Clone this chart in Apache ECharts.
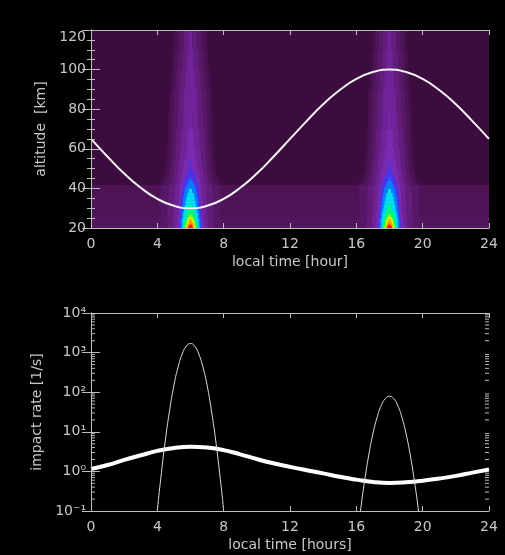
<!DOCTYPE html>
<html lang="en">
<head>
    <meta charset="UTF-8">
    <title>impact rate</title>
    <script src="https://cdn.jsdelivr.net/npm/echarts@6/dist/echarts.min.js"></script>
    <style>
        html, body { margin: 0; padding: 0; background: #000; }
    </style>
</head>
<body>
<div id="myChart" style="width: 505px;height: 555px"></div>
</body>
<script>
    // altitude curve (top panel), one point per hour
    var hours = [0,1,2,3,4,5,6,7,8,9,10,11,12,13,14,15,16,17,18,19,20,21,22,23,24];
    var altLine = [65,56,47.5,40.3,34.7,31.2,30,31.2,34.7,40.3,47.5,56,65,74,82.5,89.7,95.3,98.8,100,98.8,95.3,89.7,82.5,74,65];

    // thick impact rate curve (bottom panel)
    var rateLine = [1.15,1.45,1.95,2.55,3.3,3.9,4.2,4.0,3.45,2.7,2.05,1.6,1.3,1.07,0.89,0.73,0.62,0.54,0.51,0.53,0.58,0.66,0.77,0.93,1.12];

    // thin peaks around 6h and 18h
    var peakATime = [3.75,4,4.25,4.5,4.75,5,5.25,5.5,5.75,6,6.25,6.5,6.75,7,7.25,7.5,7.75,8,8.25];
    var peakARate = [0.006,0.1,0.95,7,37,150,430,920,1450,1700,1450,920,430,150,37,7,0.95,0.1,0.006];
    var peakBTime = [15.75,16,16.25,16.5,16.75,17,17.25,17.5,17.75,18,18.25,18.5,18.75,19,19.25,19.5,19.75,20,20.25];
    var peakBRate = [0.001,0.013,0.1,0.58,2.6,8.9,23,46,69,79,69,46,23,8.9,2.6,0.58,0.1,0.013,0.001];

    // log axis labels and minor ticks
    var logLabels = ['10⁻¹','10⁰','10¹','10²','10³','10⁴'];
    var logMinor = [0.2,0.3,0.4,0.5,0.6,0.7,0.8,0.9, 2,3,4,5,6,7,8,9, 20,30,40,50,60,70,80,90,
        200,300,400,500,600,700,800,900, 2000,3000,4000,5000,6000,7000,8000,9000];

    // background map: altitude rows, background level, plume half widths (hours) for levels 1..13
    var plumeCenters = [6, 18];
    var altEdges = [20,21,22,23,24,25,26,27,28,29,30,32,34,36,38,40,41,42,43,44,46,48,50,55,60,70,80,90,100,110,120];
    var bgLevel = [2.4,2.4,2.4,2.4,2.4,2.4, 2.1,2.1,2.1,2.1,2.1,2.1, 1.8,1.8,1.8,1.8,1.8, 0,0,0,0,0,0,0,0,0,0,0,0,0];
    var plumeWidth = [
        [2,2,1.8,1.4,1.05,0.85,0.72,0.62,0.52,0.42,0.31,0.22,0.13],
        [2,2,1.8,1.4,1.05,0.84,0.71,0.61,0.51,0.4,0.29,0.19,0.08],
        [2,2,1.8,1.4,1.05,0.83,0.7,0.6,0.5,0.38,0.26,0.15,0.02],
        [2,2,1.8,1.4,1.04,0.82,0.69,0.59,0.49,0.36,0.23,0.1],
        [2,2,1.8,1.4,1.04,0.81,0.68,0.58,0.48,0.34,0.19,0.04],
        [2,2,1.8,1.39,1.03,0.8,0.67,0.57,0.46,0.31,0.14],
        [2,2,1.8,1.39,1.03,0.79,0.66,0.56,0.45,0.28,0.07],
        [2,2,1.8,1.38,1.02,0.78,0.65,0.55,0.43,0.24],
        [2,2,1.8,1.38,1.02,0.77,0.64,0.54,0.41,0.2],
        [2,2,1.8,1.37,1.01,0.76,0.63,0.52,0.39,0.15],
        [2,2,1.8,1.36,1.0,0.75,0.62,0.5,0.36,0.08],
        [2,2,1.8,1.35,0.99,0.73,0.6,0.47,0.32],
        [2,2,1.8,1.34,0.98,0.71,0.58,0.44,0.27],
        [2,2,1.8,1.33,0.97,0.69,0.56,0.4,0.2],
        [2,2,1.8,1.32,0.96,0.67,0.53,0.35,0.1],
        [2,2,1.8,1.31,0.95,0.65,0.5,0.3],
        [2,2,1.8,1.3,0.94,0.63,0.47,0.25],
        [2.0,1.7,1.4,1.1,0.85,0.62,0.45,0.2],
        [1.85,1.6,1.35,1.08,0.83,0.6,0.4,0.13],
        [1.7,1.5,1.3,1.05,0.8,0.57,0.33,0.05],
        [1.6,1.45,1.25,1.02,0.78,0.54,0.25],
        [1.55,1.4,1.2,1.0,0.75,0.5,0.15],
        [1.5,1.35,1.15,0.95,0.7,0.42,0.05],
        [1.45,1.3,1.1,0.9,0.63,0.32],
        [1.4,1.25,1.05,0.83,0.55,0.2],
        [1.35,1.2,1.0,0.76,0.46,0.06],
        [1.3,1.15,0.95,0.7,0.38],
        [1.2,1.05,0.85,0.6,0.28],
        [1.1,0.95,0.75,0.5,0.18],
        [1.0,0.85,0.65,0.42,0.08]
    ];
    var mapColors = ['#3d0c3f','#45104b','#4e1458','#581868','#631d7c','#6f2396','#7a2ab0',
        '#4a34e8','#0a7cff','#00dcf0','#00ff78','#d0ff00','#ff9800','#ff1800'];

    // build rectangles [t0, t1, alt0, alt1, level]
    var cells = [];
    var step = 0.05;
    for (var r = 0; r < altEdges.length - 1; r++) {
        var hw = plumeWidth[r];
        var levelAt = function (t) {
            var d = 99;
            plumeCenters.forEach(function (c) { d = Math.min(d, Math.abs(t - c)); });
            var lv = bgLevel[r];
            for (var k = 0; k < hw.length; k++) {
                if (d < hw[k]) lv = Math.max(lv, k + 1);
            }
            return lv;
        };
        var startI = 0;
        var cur = levelAt(0.5 * step);
        for (var i = 1; i <= 480; i++) {
            var lv = i < 480 ? levelAt((i + 0.5) * step) : -1;
            if (lv !== cur) {
                cells.push([startI * step, i * step, altEdges[r], altEdges[r + 1], cur]);
                startI = i;
                cur = lv;
            }
        }
    }

    var txt = '#c8c8c8';
    var frame = {lineStyle: {color: '#bdbdbd', width: 1}};
    var font = 'DejaVu Sans';

    function xAx(grid, pos, name) {
        return {
            gridIndex: grid, type: 'value', position: pos, min: 0, max: 24, interval: 4, z: 5,
            axisLine: frame,
            axisTick: {inside: true, length: 5, lineStyle: {color: '#bdbdbd'}},
            axisLabel: {show: !!name, color: txt, fontSize: 14, fontFamily: font, margin: 9},
            splitLine: {show: false},
            name: name || '', nameLocation: 'middle', nameGap: 27,
            nameTextStyle: {color: txt, fontSize: 14, fontFamily: font}
        };
    }

    var myChart = echarts.init(document.getElementById('myChart'));
    myChart.setOption({
        backgroundColor: '#000',
        animation: false,
        grid: [
            {left: 91, right: 16, top: 30, height: 198},
            {left: 91, right: 16, top: 313, height: 198}
        ],
        visualMap: {
            show: false, type: 'continuous', seriesIndex: 0, dimension: 4,
            min: 0, max: 13, inRange: {color: mapColors}
        },
        xAxis: [
            xAx(0, 'bottom', 'local time [hour]'),
            xAx(0, 'top'),
            xAx(1, 'bottom', 'local time [hours]'),
            xAx(1, 'top')
        ],
        yAxis: [
            {
                gridIndex: 0, type: 'value', position: 'left', min: 20, max: 120, interval: 20, z: 5,
                axisLine: frame,
                axisTick: {inside: true, length: 9, lineStyle: {color: '#bdbdbd'}},
                minorTick: {show: true, splitNumber: 4, length: 4, lineStyle: {color: '#bdbdbd'}},
                axisLabel: {color: txt, fontSize: 14, fontFamily: font, margin: 5,
                    verticalAlignMaxLabel: 'top'},
                splitLine: {show: false},
                name: 'altitude  [km]', nameLocation: 'middle', nameGap: 35,
                nameTextStyle: {color: txt, fontSize: 14, fontFamily: font}
            },
            {
                gridIndex: 0, type: 'value', position: 'right', min: 20, max: 120, interval: 20, z: 5,
                axisLine: frame,
                axisTick: {inside: true, length: 9, lineStyle: {color: '#bdbdbd'}},
                minorTick: {show: true, splitNumber: 4, length: 4, lineStyle: {color: '#bdbdbd'}},
                axisLabel: {show: false},
                splitLine: {show: false}
            },
            {
                gridIndex: 1, type: 'log', logBase: 10, position: 'left', min: 0.1, max: 10000, z: 5,
                axisLine: frame,
                axisTick: {inside: true, length: 9, lineStyle: {color: '#bdbdbd'}},
                axisLabel: {color: txt, fontSize: 14, fontFamily: font, margin: 5,
                    formatter: function (v) { return logLabels[Math.round(Math.log10(v)) + 1]; }},
                splitLine: {show: false},
                name: 'impact rate [1/s]', nameLocation: 'middle', nameGap: 35,
                nameTextStyle: {color: txt, fontSize: 14, fontFamily: font}
            },
            {
                gridIndex: 1, type: 'log', logBase: 10, position: 'right', min: 0.1, max: 10000, z: 5,
                axisLine: frame,
                axisTick: {inside: true, length: 9, lineStyle: {color: '#bdbdbd'}},
                axisLabel: {show: false},
                splitLine: {show: false}
            }
        ],
        series: [
            {
                // colour map behind the altitude curve
                type: 'custom', xAxisIndex: 0, yAxisIndex: 0, silent: true, clip: true,
                encode: {x: [0, 1], y: [2, 3]},
                renderItem: function (params, api) {
                    var p0 = api.coord([api.value(0), api.value(3)]);
                    var p1 = api.coord([api.value(1), api.value(2)]);
                    return {
                        type: 'rect',
                        shape: {x: p0[0], y: p0[1], width: p1[0] - p0[0] + 0.6, height: p1[1] - p0[1] + 0.6},
                        style: {fill: api.visual('color')}
                    };
                },
                data: cells
            },
            {
                type: 'line', xAxisIndex: 0, yAxisIndex: 0, smooth: true, symbol: 'none', z: 3,
                lineStyle: {color: '#f4f4f4', width: 2},
                data: hours.map(function (t, i) { return [t, altLine[i]]; })
            },
            {
                type: 'line', xAxisIndex: 2, yAxisIndex: 2, smooth: true, symbol: 'none',
                lineStyle: {color: '#ffffff', width: 4},
                data: hours.map(function (t, i) { return [t, rateLine[i]]; })
            },
            {
                type: 'line', xAxisIndex: 2, yAxisIndex: 2, smooth: true, symbol: 'none', clip: true,
                lineStyle: {color: '#dcdcdc', width: 1},
                data: peakATime.map(function (t, i) { return [t, peakARate[i]]; })
            },
            {
                type: 'line', xAxisIndex: 2, yAxisIndex: 2, smooth: true, symbol: 'none', clip: true,
                lineStyle: {color: '#dcdcdc', width: 1},
                data: peakBTime.map(function (t, i) { return [t, peakBRate[i]]; })
            },
            {
                // minor ticks of the log axis on both sides
                type: 'custom', xAxisIndex: 2, yAxisIndex: 2, silent: true, z: 6,
                renderItem: function (params, api) {
                    var a = api.coord([0, api.value(1)]);
                    var b = api.coord([24, api.value(1)]);
                    var st = {stroke: '#bdbdbd', lineWidth: 1};
                    return {
                        type: 'group',
                        children: [
                            {type: 'line', shape: {x1: a[0], y1: a[1], x2: a[0] + 4, y2: a[1]}, style: st},
                            {type: 'line', shape: {x1: b[0] - 4, y1: b[1], x2: b[0], y2: b[1]}, style: st}
                        ]
                    };
                },
                data: logMinor.map(function (v) { return [0, v]; })
            }
        ]
    });
</script>
</html>
